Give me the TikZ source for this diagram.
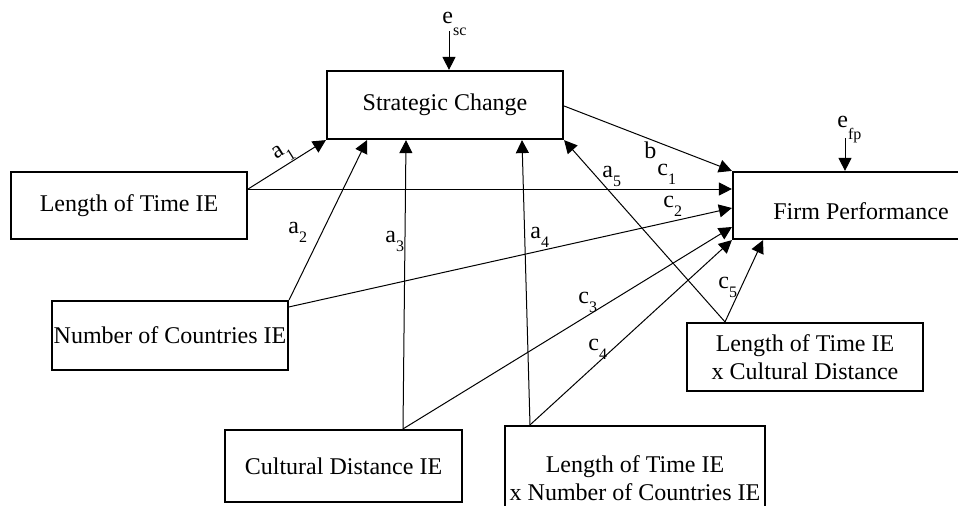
\documentclass[tikz,border=0pt]{standalone}
\usepackage{fontspec}
\setmainfont{Liberation Serif}
\usetikzlibrary{calc}
\usetikzlibrary{arrows.meta}

\newcommand{\pathsub}[1]{\raisebox{-4.5pt}{\fontsize{8}{8}\selectfont #1}}
\newcommand{\errsub}[1]{\raisebox{-6pt}{\fontsize{8}{8}\selectfont #1}}

\tikzset{
	varbox/.style={draw,line width=1.1pt,inner sep=0pt,align=center},
	patharrow/.style={line width=0.5pt,-{Triangle[length=6.5pt,width=6.5pt]}},
	pathlabel/.style={inner sep=0pt,anchor=base west}
}

\begin{document}
\begin{tikzpicture}[x=0.5pt,y=-0.5pt,font=\fontsize{12}{14}\selectfont]
\clip (0,0) rectangle (958,505);
		% variables
		\node[varbox,minimum width=118pt,minimum height=34pt] (SC) at (445,105) {Strategic Change};
		\node[varbox,minimum width=128pt,minimum height=33.5pt,label={[yshift=-2.75pt]center:Firm Performance}] (FP) at (861,205.5) {};
		\node[varbox,minimum width=118pt,minimum height=33.5pt] (LT) at (129,205.5) {Length of Time IE};
		\node[varbox,minimum width=118pt,minimum height=34.5pt] (NC) at (170,335.5) {Number of Countries IE};
		\node[varbox,minimum width=118.5pt,minimum height=36pt] (CD) at (343.5,466) {Cultural Distance IE};
		\node[varbox,minimum width=130pt,minimum height=52pt] (LN) at (635,478) {Length of Time IE\\x Number of Countries IE};
		\node[varbox,minimum width=118pt,minimum height=34pt] (LC) at (805,357) {Length of Time IE\\x Cultural Distance};
		% error terms
		\node[pathlabel] (esc) at (442,23) {e\errsub{sc}};
		\node[pathlabel] (efp) at (837,127) {e\errsub{fp}};
		\coordinate (escTop) at (449,31);
		\coordinate (efpTop) at (845,138);
		\draw[patharrow] (escTop) -- (escTop |- SC.north);
		\draw[patharrow] (efpTop) -- (efpTop |- FP.north);
		% end points
		\coordinate (LTout) at ($(LT.east)+(0,-16.5)$);
		\coordinate (NCout) at ($(NC.north east)+(0,7)$);
		\coordinate (CDout) at (403,0 |- CD.north);
		\coordinate (LNout) at (530,0 |- LN.north);
		\coordinate (LCout) at (725,0 |- LC.north);
		\coordinate (SCout) at ($(SC.east)+(0,1)$);
		\coordinate (SCin2) at (367,0 |- SC.south);
		\coordinate (SCin3) at (406,0 |- SC.south);
		\coordinate (SCin4) at (522,0 |- SC.south);
		\coordinate (FPin2) at (0,208 -| FP.west);
		\coordinate (FPin3) at (0,227 -| FP.west);
		\coordinate (FPin5) at (763,0 |- FP.south);
		% paths
		\draw[patharrow] (LTout) -- (SC.south west);
		\draw[patharrow] (NC.north east) -- (SCin2);
		\draw[patharrow] (CDout) -- (SCin3);
		\draw[patharrow] (LNout) -- (SCin4);
		\draw[patharrow] (LCout) -- (SC.south east);
		\draw[patharrow] (SCout) -- (FP.north west);
		\draw[patharrow] (LTout) -- (LTout -| FP.west);
		\draw[patharrow] (NCout) -- (FPin2);
		\draw[patharrow] (CDout) -- (FPin3);
		\draw[patharrow] (LNout) -- (FP.south west);
		\draw[patharrow] (LCout) -- (FPin5);
		% path labels
		\node[pathlabel,rotate=32] (la1) at (276,160) {a\pathsub{1}};
		\node[pathlabel] (la2) at (288,233) {a\pathsub{2}};
		\node[pathlabel] (la3) at (385,242) {a\pathsub{3}};
		\node[pathlabel] (la4) at (530,238) {a\pathsub{4}};
		\node[pathlabel] (la5) at (602,177) {a\pathsub{5}};
		\node[pathlabel] (lb) at (644,158) {b};
		\node[pathlabel] (lc1) at (657,175) {c\pathsub{1}};
		\node[pathlabel] (lc2) at (663,207) {c\pathsub{2}};
		\node[pathlabel] (lc3) at (578,303) {c\pathsub{3}};
		\node[pathlabel] (lc4) at (588,350) {c\pathsub{4}};
		\node[pathlabel] (lc5) at (718,288) {c\pathsub{5}};
\end{tikzpicture}
\end{document}
